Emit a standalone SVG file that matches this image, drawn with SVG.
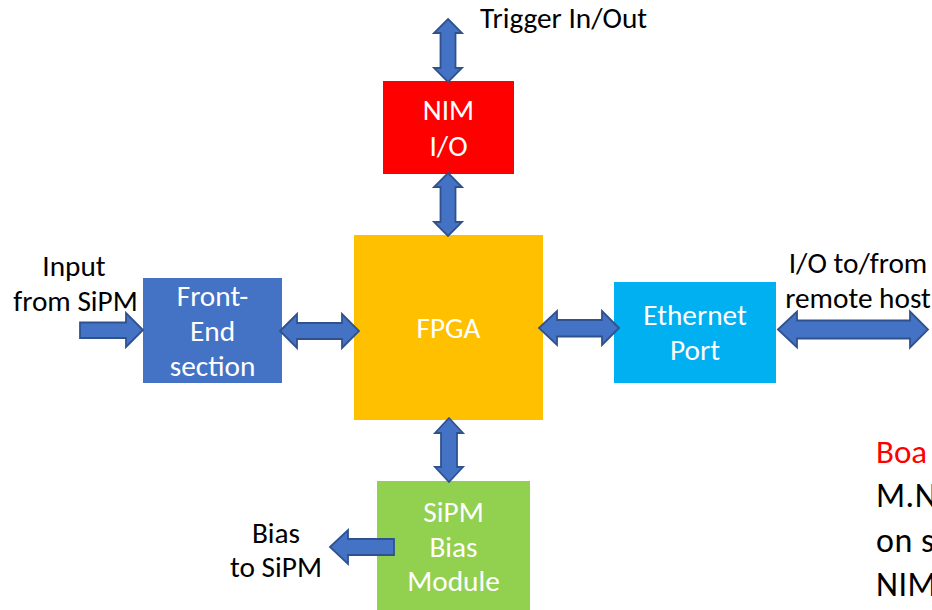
<svg xmlns="http://www.w3.org/2000/svg" width="932" height="610" viewBox="0 0 932 610">
  <style>
    text { font-family: Carlito, Lato, "Liberation Sans", sans-serif; font-size: 29.3px; }
    .in { fill: #ffffff; text-anchor: middle; }
    .lbl { fill: #000000; text-anchor: middle; }
    .note { fill: #000000; font-size: 34px; letter-spacing: 0.5px; }
    .note-red { fill: #FF0000; font-size: 33px; }
    .arrow { fill: #4472C4; stroke: #2F528F; stroke-width: 1.8; stroke-linejoin: miter; }
  </style>
  <rect width="932" height="610" fill="#ffffff"/>

  <!-- blocks -->
  <g id="nim-io">
    <rect x="383" y="81" width="131" height="93" fill="#FF0000"/>
    <text class="in" x="448.5" y="120">NIM</text>
    <text class="in" x="448.5" y="156">I/O</text>
  </g>
  <g id="fpga">
    <rect x="354" y="235" width="189" height="185" fill="#FFC000"/>
    <text class="in" x="448.5" y="338">FPGA</text>
  </g>
  <g id="front-end">
    <rect x="143" y="278" width="139" height="105" fill="#4472C4"/>
    <text class="in" x="212.5" y="306">Front-</text>
    <text class="in" x="212.5" y="341">End</text>
    <text class="in" x="212.5" y="376">section</text>
  </g>
  <g id="ethernet">
    <rect x="614" y="282" width="162" height="101" fill="#00B0F0"/>
    <text class="in" x="695" y="325">Ethernet</text>
    <text class="in" x="695" y="360">Port</text>
  </g>
  <g id="sipm-bias">
    <rect x="377" y="481" width="153" height="129" fill="#92D050"/>
    <text class="in" x="453.5" y="522">SiPM</text>
    <text class="in" x="453.5" y="557">Bias</text>
    <text class="in" x="453.5" y="591">Module</text>
  </g>

  <!-- block arrows -->
  <g id="connectors">
    <!-- trigger in/out -->
    <polygon class="arrow" points="448,19 462,33 455.5,33 455.5,68 462,68 448,82 434,68 440.5,68 440.5,33 434,33"/>
    <!-- NIM I/O <-> FPGA -->
    <polygon class="arrow" points="448,173 462,187 455.5,187 455.5,222 462,222 448,236 434,222 440.5,222 440.5,187 434,187"/>
    <!-- FPGA <-> SiPM bias -->
    <polygon class="arrow" points="449,418 463,433 457,433 457,467 463,467 449,482 435,467 441,467 441,433 435,433"/>
    <!-- input from SiPM -->
    <polygon class="arrow" points="80,322.5 126,322.5 126,313 143,330 126,347 126,338 80,338"/>
    <!-- front-end <-> FPGA -->
    <polygon class="arrow" points="280,331 297,314 297,323 342,323 342,314 359,331 342,348 342,339 297,339 297,348"/>
    <!-- FPGA <-> ethernet -->
    <polygon class="arrow" points="539,328 557,311 557,320 602,320 602,311 619,328 602,345 602,336.5 557,336.5 557,345"/>
    <!-- ethernet <-> remote host -->
    <polygon class="arrow" points="778,329.5 797,311.5 797,320.5 910,320.5 910,311.5 928,329.5 910,347.5 910,338.5 797,338.5 797,347.5"/>
    <!-- bias to SiPM -->
    <polygon class="arrow" points="330,547 348,530 348,539 394,539 394,555 348,555 348,564"/>
  </g>

  <!-- external labels -->
  <text x="480" y="28" fill="#000000">Trigger In/Out</text>
  <text class="lbl" x="74" y="276">Input</text>
  <text class="lbl" x="75.5" y="311">from SiPM</text>
  <text class="lbl" x="858" y="273">I/O to/from</text>
  <text class="lbl" x="858" y="308">remote host</text>
  <text class="lbl" x="276" y="543">Bias</text>
  <text class="lbl" x="276" y="577">to SiPM</text>

  <!-- side note, running off the right edge -->
  <text class="note-red" x="876" y="463">Boa</text>
  <text class="note" x="876" y="507">M.N</text>
  <text class="note" x="876" y="552">on s</text>
  <text class="note" x="876" y="596">NIM</text>
</svg>
